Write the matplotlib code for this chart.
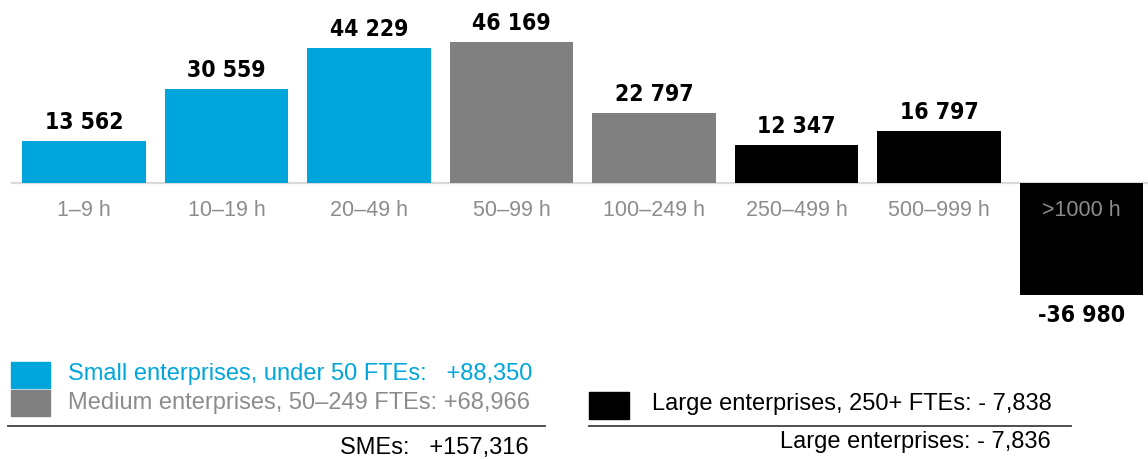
import matplotlib.pyplot as plt
from matplotlib.patches import Rectangle

# data
categories = ["1\u20139 h", "10\u201319 h", "20\u201349 h", "50\u201399 h",
              "100\u2013249 h", "250\u2013499 h", "500\u2013999 h", ">1000 h"]
values = [13562, 30559, 44229, 46169, 22797, 12347, 16797, -36980]
groups = ["small", "small", "small", "medium", "medium", "large", "large", "large"]

legend_small = "Small enterprises, under 50 FTEs:   +88,350"
legend_medium = "Medium enterprises, 50\u2013249 FTEs: +68,966"
legend_large = "Large enterprises, 250+ FTEs: - 7,838"
total_sme = "SMEs:   +157,316"
total_large = "Large enterprises: - 7,836"

colors = {"small": "#00a6db", "medium": "#808080", "large": "#000000"}
tick_gray = "#8c8c8c"

W, H = 1148, 459
fig = plt.figure(figsize=(W / 100, H / 100), dpi=100)
ax = fig.add_axes([0, 0, 1, 1])
ax.axis("off")

step = 142.5
x0 = 84
px_per_unit = 140.8 / 46169
base = 182.5
ax.set_xlim(-x0 / step, (W - x0) / step)
ax.set_ylim(-(H - base) / px_per_unit, base / px_per_unit)

xs = list(range(len(values)))
ax.bar(xs, values, width=0.87, color=[colors[g] for g in groups], zorder=2)
ax.axhline(0, xmin=12 / W, xmax=1, color="#d9d9d9", lw=1.6, zorder=1)

bold = ["DejaVu Sans"]
reg = ["Liberation Sans", "DejaVu Sans"]

for x, v, lab in zip(xs, values, categories):
    txt = f"{abs(v):,}".replace(",", " ")
    if v >= 0:
        ax.annotate(txt, (x, v), xytext=(0, 5), textcoords="offset points",
                    ha="center", va="bottom", fontsize=16.5, fontweight="bold",
                    family=bold, fontstretch="condensed", zorder=3)
    else:
        ax.annotate("-" + txt, (x, v), xytext=(0, -6), textcoords="offset points",
                    ha="center", va="top", fontsize=16.5, fontweight="bold",
                    family=bold, fontstretch="condensed", zorder=3)
    ax.annotate(lab, (x, 0), xytext=(0, -20), textcoords="offset points",
                ha="center", va="center", fontsize=15.5, color=tick_gray,
                family=reg, zorder=3)


def fx(px):
    return px / W


def fy(py):
    return 1 - py / H


def square(x1, y1, x2, y2, c):
    fig.patches.append(Rectangle((fx(x1), fy(y2)), fx(x2) - fx(x1), fy(y1) - fy(y2),
                                 transform=fig.transFigure, color=c))


def hline(x1, x2, y):
    fig.add_artist(plt.Line2D([fx(x1), fx(x2)], [fy(y), fy(y)],
                              transform=fig.transFigure, color="#404040", lw=1.3))


square(11, 362, 50, 388, colors["small"])
square(11, 390, 50, 416, colors["medium"])
square(589, 392, 629, 419, colors["large"])

fs = 17
fig.text(fx(68), fy(374), legend_small, color=colors["small"], fontsize=fs,
         family=reg, va="center", ha="left")
fig.text(fx(68), fy(403), legend_medium, color=tick_gray, fontsize=fs,
         family=reg, va="center", ha="left")
hline(8, 545, 426)
fig.text(fx(529), fy(448), total_sme, color="black", fontsize=fs,
         family=reg, va="center", ha="right")

fig.text(fx(652), fy(404), legend_large, color="black", fontsize=fs,
         family=reg, va="center", ha="left")
hline(589, 1071, 426)
fig.text(fx(1051), fy(442), total_large, color="black", fontsize=fs,
         family=reg, va="center", ha="right")

fig.savefig("out.png", dpi=100)
